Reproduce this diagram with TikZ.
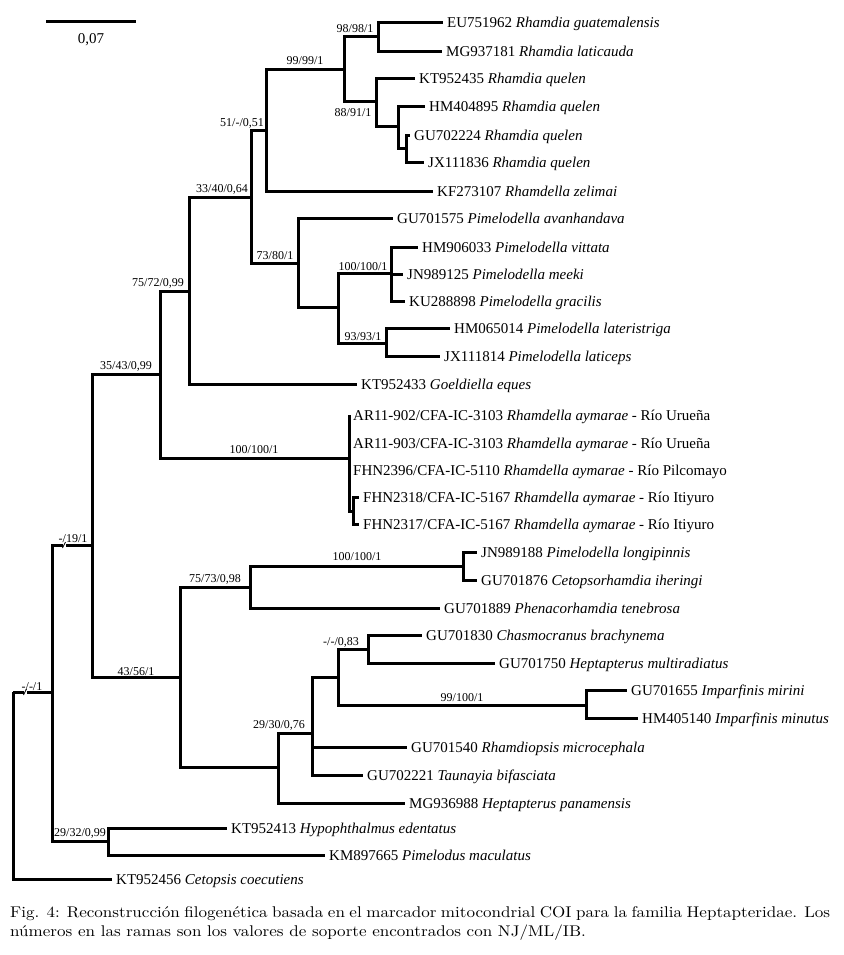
\documentclass[tikz,border=0pt]{standalone}
\usepackage{fontspec}
\newfontfamily\treefont{Liberation Serif}
\newfontfamily\capfont{lmroman10-regular.otf}[FakeStretch=1.1]
\tikzset{
  leaf/.style={anchor=west, inner xsep=4pt, inner ysep=0pt, text height=10pt, text depth=0pt,
    font=\treefont\fontsize{15}{18}\selectfont},
  support/.style={inner sep=0pt, text height=8pt, text depth=0pt,
    font=\treefont\fontsize{12}{14}\selectfont},
  branch/.style={line width=3pt},
  caption/.style={anchor=base west, inner sep=0pt, font=\capfont\fontsize{15.5}{19}\selectfont},
}
\begin{document}
\begin{tikzpicture}[x=1pt,y=-1pt]
      \useasboundingbox (0,0) rectangle (843,955);
      % leaves
      \draw
        (443,23) node[leaf] (1){EU751962 \textit{Rhamdia guatemalensis}}
        (442,52) node[leaf] (2){MG937181 \textit{Rhamdia laticauda}}
        (415,79) node[leaf] (3){KT952435 \textit{Rhamdia quelen}}
        (425,107) node[leaf] (4){HM404895 \textit{Rhamdia quelen}}
        (410,135) node[leaf] (5){GU702224 \textit{Rhamdia quelen}}
        (424,162) node[leaf] (6){JX111836 \textit{Rhamdia quelen}}
        (433,191) node[leaf] (7){KF273107 \textit{Rhamdella zelimai}}
        (393,218) node[leaf] (8){GU701575 \textit{Pimelodella avanhandava}}
        (418,247) node[leaf] (9){HM906033 \textit{Pimelodella vittata}}
        (403,274) node[leaf] (10){JN989125 \textit{Pimelodella meeki}}
        (405,301) node[leaf] (11){KU288898 \textit{Pimelodella gracilis}}
        (450,328) node[leaf] (12){HM065014 \textit{Pimelodella lateristriga}}
        (440,356) node[leaf] (13){JX111814 \textit{Pimelodella laticeps}}
        (357,384) node[leaf] (14){KT952433 \textit{Goeldiella eques}}
        (349,415) node[leaf] (15){AR11-902/CFA-IC-3103 \textit{Rhamdella aymarae} - Río Urueña}
        (349,443) node[leaf] (16){AR11-903/CFA-IC-3103 \textit{Rhamdella aymarae} - Río Urueña}
        (349,470) node[leaf] (17){FHN2396/CFA-IC-5110 \textit{Rhamdella aymarae} - Río Pilcomayo}
        (359,497) node[leaf] (18){FHN2318/CFA-IC-5167 \textit{Rhamdella aymarae} - Río Itiyuro}
        (359,524) node[leaf] (19){FHN2317/CFA-IC-5167 \textit{Rhamdella aymarae} - Río Itiyuro}
        (477,552) node[leaf] (20){JN989188 \textit{Pimelodella longipinnis}}
        (477,580) node[leaf] (21){GU701876 \textit{Cetopsorhamdia iheringi}}
        (440,608) node[leaf] (22){GU701889 \textit{Phenacorhamdia tenebrosa}}
        (422,635) node[leaf] (23){GU701830 \textit{Chasmocranus brachynema}}
        (495,663) node[leaf] (24){GU701750 \textit{Heptapterus multiradiatus}}
        (627,690) node[leaf] (25){GU701655 \textit{Imparfinis mirini}}
        (638,718) node[leaf] (26){HM405140 \textit{Imparfinis minutus}}
        (407,747) node[leaf] (27){GU701540 \textit{Rhamdiopsis microcephala}}
        (363,775) node[leaf] (28){GU702221 \textit{Taunayia bifasciata}}
        (405,803) node[leaf] (29){MG936988 \textit{Heptapterus panamensis}}
        (227,828) node[leaf] (30){KT952413 \textit{Hypophthalmus edentatus}}
        (325,855) node[leaf] (31){KM897665 \textit{Pimelodus maculatus}}
        (112,879) node[leaf] (32){KT952456 \textit{Cetopsis coecutiens}};
      % inner nodes
      \path
        (13,692) coordinate (r)
        (52,692) coordinate (a)
        (92,545) coordinate (b)
        (108,841) coordinate (c)
        (160,374) coordinate (d)
        (180,677) coordinate (e)
        (189,291) coordinate (f)
        (349,458) coordinate (g)
        (251,197) coordinate (h)
        (266,131) coordinate (i)
        (298,263) coordinate (j)
        (344,70) coordinate (k)
        (378,37) coordinate (l)
        (376,102) coordinate (m)
        (398,127) coordinate (o)
        (406,148) coordinate (p)
        (338,307) coordinate (q)
        (391,273) coordinate (s)
        (386,343) coordinate (u)
        (353,511) coordinate (v)
        (250,587) coordinate (w)
        (278,767) coordinate (x)
        (463,566) coordinate (y)
        (312,733) coordinate (z)
        (338,677) coordinate (aa)
        (368,649) coordinate (bb)
        (586,705) coordinate (cc);
      \begin{scope}[branch]
        \draw (r) |- (a);
        \draw (r) |- (32);
        \draw (a) |- (b);
        \draw (a) |- (c);
        \draw (c) |- (30);
        \draw (c) |- (31);
        \draw (b) |- (d);
        \draw (b) |- (e);
        \draw (d) |- (f);
        \draw (d) |- (g);
        \draw (f) |- (h);
        \draw (f) |- (14);
        \draw (h) |- (i);
        \draw (h) |- (j);
        \draw (i) |- (k);
        \draw (i) |- (7);
        \draw (k) |- (l);
        \draw (k) |- (m);
        \draw (l) |- (1);
        \draw (l) |- (2);
        \draw (m) |- (3);
        \draw (m) |- (o);
        \draw (o) |- (4);
        \draw (o) |- (p);
        \draw (p) |- (5);
        \draw (p) |- (6);
        \draw (j) |- (8);
        \draw (j) |- (q);
        \draw (q) |- (s);
        \draw (q) |- (u);
        \draw (s) |- (9);
        \draw (s) |- (10);
        \draw (s) |- (11);
        \draw (u) |- (12);
        \draw (u) |- (13);
        \draw (g) |- (15);
        \draw (g) |- (16);
        \draw (g) |- (17);
        \draw (g) |- (v);
        \draw (v) |- (18);
        \draw (v) |- (19);
        \draw (e) |- (w);
        \draw (e) |- (x);
        \draw (w) |- (y);
        \draw (w) |- (22);
        \draw (y) |- (20);
        \draw (y) |- (21);
        \draw (x) |- (z);
        \draw (x) |- (29);
        \draw (z) |- (aa);
        \draw (z) |- (27);
        \draw (z) |- (28);
        \draw (aa) |- (bb);
        \draw (aa) |- (cc);
        \draw (bb) |- (23);
        \draw (bb) |- (24);
        \draw (cc) |- (25);
        \draw (cc) |- (26);
      \end{scope}
      % branch breaks
      \fill[white] (23.5,688) rectangle (26.5,696);
      \draw[line width=0.7pt] (23.5,695) -- (26.5,689);
      \fill[white] (62.5,541) rectangle (65.5,549);
      \draw[line width=0.7pt] (62.5,548) -- (65.5,542);
      % supports
      \path
        (32,686) node[support] (sr){-/-/1}
        (73,538) node[support] (sb){-/19/1}
        (80,832) node[support] (sc){29/32/0,99}
        (126,365) node[support] (sd){35/43/0,99}
        (136,671) node[support] (se){43/56/1}
        (158,282) node[support] (sf){75/72/0,99}
        (254,449) node[support] (sg){100/100/1}
        (222,188) node[support] (sh){33/40/0,64}
        (242,122) node[support] (si){51/-/0,51}
        (275,255) node[support] (sj){73/80/1}
        (305,61) node[support] (sk){99/99/1}
        (355,29) node[support] (sl){98/98/1}
        (353,113) node[support] (sm){88/91/1}
        (363,266) node[support] (ss){100/100/1}
        (363,336) node[support] (su){93/93/1}
        (215,578) node[support] (sw){75/73/0,98}
        (357,556) node[support] (sy){100/100/1}
        (279,724) node[support] (sz){29/30/0,76}
        (341,641) node[support] (sbb){-/-/0,83}
        (462,697) node[support] (scc){99/100/1};
      % scale
      \path (46,22) coordinate (s0) (136,22) coordinate (s1);
      \draw[branch] (s0) -- (s1);
      \node[font=\treefont\fontsize{15}{18}\selectfont, inner sep=0pt] (sv) at (91,40) {0,07};
      % caption
      \node[caption] (cap1) at (10,917)
        {\makebox[820pt][s]{Fig. 4: Reconstrucción filogenética basada en el marcador mitocondrial COI para la familia Heptapteridae. Los}};
      \node[caption] (cap2) at (10,936)
        {números en las ramas son los valores de soporte encontrados con NJ/ML/IB.};
    \end{tikzpicture}
\end{document}
